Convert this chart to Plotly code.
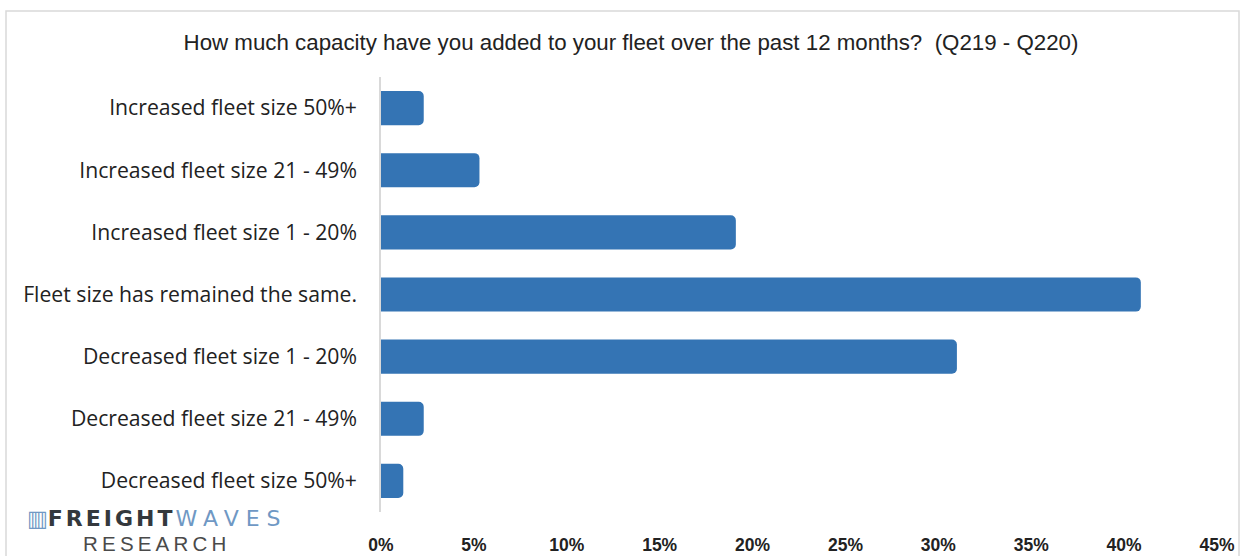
import plotly.graph_objects as go

categories = [
    "Increased fleet size 50%+",
    "Increased fleet size 21 - 49%",
    "Increased fleet size 1 - 20%",
    "Fleet size has remained the same.",
    "Decreased fleet size 1 - 20%",
    "Decreased fleet size 21 - 49%",
    "Decreased fleet size 50%+",
]
values = [2.3, 5.3, 19.1, 40.9, 31.0, 2.3, 1.2]
tick_vals = [0, 5, 10, 15, 20, 25, 30, 35, 40, 45]
tick_text = ["0%", "5%", "10%", "15%", "20%", "25%", "30%", "35%", "40%", "45%"]
title_text = "How much capacity have you added to your fleet over the past 12 months?  (Q219 - Q220)"

fig = go.Figure(go.Bar(
    x=values, y=categories, orientation="h",
    marker=dict(color="#3474B4", cornerradius=5, line=dict(width=0)),
))

fig.update_layout(
    width=1242, height=556,
    margin=dict(l=381, r=25, t=77, b=44, autoexpand=False),
    paper_bgcolor="white", plot_bgcolor="white",
    bargap=0.45,
    showlegend=False,
    title=dict(text=title_text, x=631/1242, xanchor="center", xref="container", y=1-42/556, yanchor="middle",
               yref="container",
               font=dict(family="Liberation Sans, Arial, sans-serif", size=22.3, color="#222222")),
)
fig.update_xaxes(
    range=[0, 45], tickvals=tick_vals, ticktext=tick_text, automargin=False,
    showgrid=False, zeroline=False, showline=False,
    ticklabelstandoff=20,
    tickfont=dict(family="Liberation Sans, Arial, sans-serif", size=17.5, color="#222222", weight="bold"),
)
fig.update_yaxes(
    categoryorder="array", categoryarray=categories, autorange="reversed", automargin=False,
    showgrid=False, zeroline=False, showline=True, linecolor="#d9d9d9", linewidth=1.5,
    ticklabelstandoff=18,
    tickfont=dict(family="Open Sans, Noto Sans, sans-serif", size=21.2, color="#222222"),
)

# outer frame
fig.add_shape(type="rect", xref="paper", yref="paper",
              x0=-375/836, x1=1+22/836, y0=-60/435, y1=1+66/435,
              line=dict(color="#d9d9d9", width=1.5), fillcolor="rgba(0,0,0,0)", layer="below")

# logo text
fig.add_annotation(xref="paper", yref="paper", x=-356/836, y=-6/435, xanchor="left", yanchor="middle",
                   text="<span style='color:#6f98c4'>▥</span><b style='color:#34383d;letter-spacing:3px'>FREIGHT</b>"
                        "<span style='color:#6f98c4;letter-spacing:7px'>WAVES</span>",
                   showarrow=False, font=dict(family="DejaVu Sans, sans-serif", size=22))
fig.add_annotation(xref="paper", yref="paper", x=-300/836, y=-31/435, xanchor="left", yanchor="middle",
                   text="<span style='letter-spacing:4.2px'>RESEARCH</span>", showarrow=False,
                   font=dict(family="Liberation Sans, Arial, sans-serif", size=20.5, color="#4a4a4a"))

fig.write_html("out.html", config={"displayModeBar": False},
               post_script="document.body.style.margin='0';")
